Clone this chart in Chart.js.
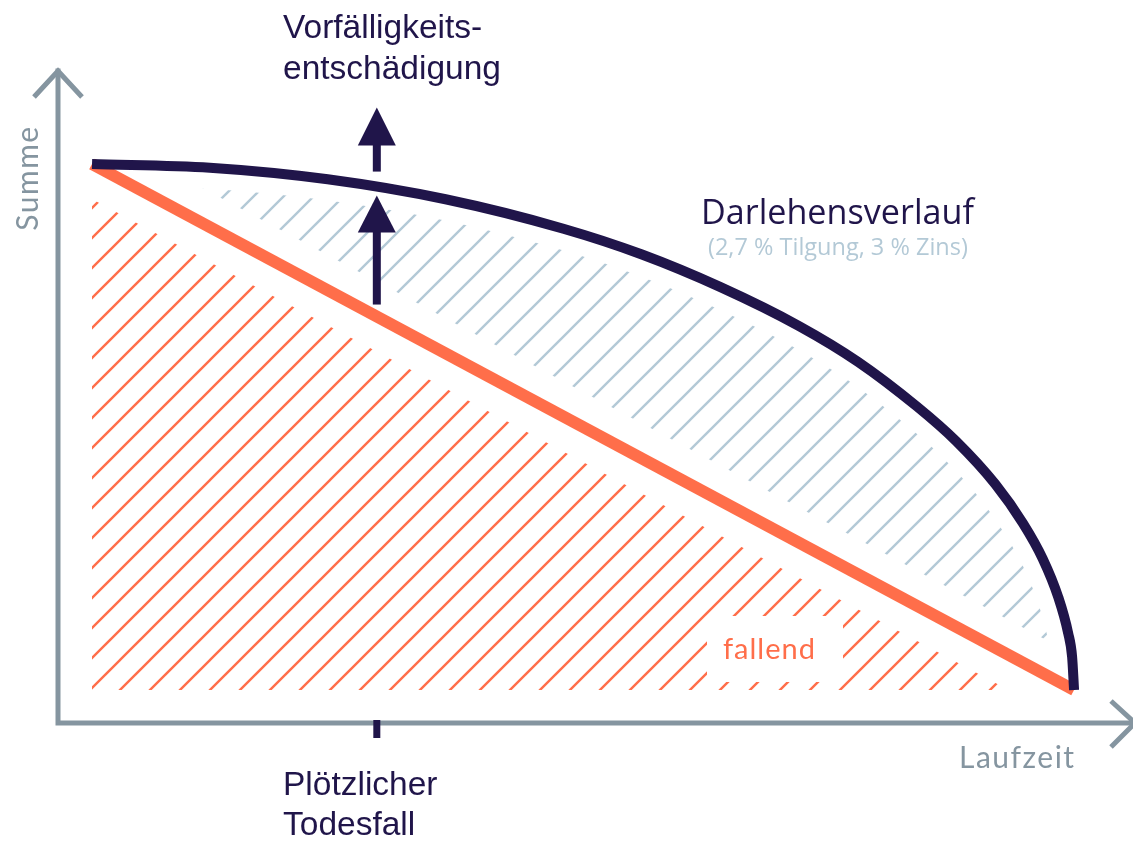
<!DOCTYPE html>
<html>
<head>
<meta charset="utf-8">
<script src="https://cdn.jsdelivr.net/npm/chart.js@4"></script>
<style>
  html, body { margin: 0; padding: 0; background: #fff; }
  #wrap { width: 1133px; height: 843px; position: relative; }
</style>
</head>
<body>
<div id="wrap"><canvas id="chart"></canvas></div>
<script>
// Laufzeit in Jahren, Restschuld in %
const jahre = [0, 3, 6, 9, 12, 14, 16, 18, 19.5, 21, 22, 23, 23.7, 24.2, 24.6, 24.85, 24.95, 25];
const darlehen = [100, 99.3, 97.1, 93.3, 87.7, 82.8, 76.6, 69.2, 62.4, 53.9, 47.3, 39.1, 31.7, 25, 17.6, 10.8, 6.3, 0];
const fallendJahre = [0, 25];
const fallendWerte = [100, 0];
const todesfallJahr = 7.25;

const navy = '#20154a';
const orange = '#ff6e4a';
const hatchBlue = '#b3c9d6';
const axisGray = '#8595a0';

function hatch(color) {
    const s = 30;
    const c = document.createElement('canvas');
    c.width = s; c.height = s;
    const g = c.getContext('2d');
    g.strokeStyle = color;
    g.lineWidth = 2.4;
    [0, s, 2 * s].forEach(k => {
        g.beginPath();
        g.moveTo(-2, k + 2);
        g.lineTo(s + 2, k - s - 2);
        g.stroke();
    });
    return g.createPattern(c, 'repeat');
}

function pts(xs, ys) {
    return xs.map((x, i) => ({x: x, y: ys[i]}));
}

function interp(xs, ys, x) {
    for (let i = 1; i < xs.length; i++) {
        if (x <= xs[i]) {
            const t = (x - xs[i - 1]) / (xs[i] - xs[i - 1]);
            return ys[i - 1] + t * (ys[i] - ys[i - 1]);
        }
    }
    return ys[ys.length - 1];
}

// Schriftgröße so wählen, dass der Text die gewünschte Breite hat
function fitFont(ctx, text, family, width) {
    ctx.font = '100px ' + family;
    const size = 100 * width / ctx.measureText(text).width;
    ctx.font = size.toFixed(2) + 'px ' + family;
}

const extras = {
    id: 'extras',
    afterDatasetsDraw(chart) {
        const ctx = chart.ctx;
        const a = chart.chartArea;
        const xs = chart.scales.x, ys = chart.scales.y;

        // Achsen mit Pfeilspitzen
        ctx.save();
        ctx.strokeStyle = axisGray;
        ctx.lineWidth = 5;
        ctx.lineCap = 'square';
        ctx.beginPath();
        ctx.moveTo(a.left, a.top + 3);
        ctx.lineTo(a.left, a.bottom);
        ctx.lineTo(a.right - 3, a.bottom);
        ctx.stroke();
        ctx.lineCap = 'butt';
        ctx.lineJoin = 'miter';
        ctx.beginPath();
        ctx.moveTo(a.left - 24, a.top + 29);
        ctx.lineTo(a.left, a.top + 3);
        ctx.lineTo(a.left + 24, a.top + 29);
        ctx.stroke();
        ctx.beginPath();
        ctx.moveTo(a.right - 22, a.bottom - 22);
        ctx.lineTo(a.right + 2, a.bottom);
        ctx.lineTo(a.right - 22, a.bottom + 24);
        ctx.stroke();
        ctx.restore();

        // Pfeile beim Todesfall
        const xe = xs.getPixelForValue(todesfallJahr);
        const yc = ys.getPixelForValue(interp(jahre, darlehen, todesfallJahr));
        const yl = ys.getPixelForValue(interp(fallendJahre, fallendWerte, todesfallJahr));
        ctx.save();
        ctx.fillStyle = navy;
        ctx.fillRect(xe - 4, yl - 12, 8, (yc + 44) - (yl - 12));
        ctx.beginPath();
        ctx.moveTo(xe, yc + 8);
        ctx.lineTo(xe - 19, yc + 45);
        ctx.lineTo(xe + 19, yc + 45);
        ctx.closePath();
        ctx.fill();
        ctx.fillRect(xe - 4, yc - 43, 8, 27);
        ctx.beginPath();
        ctx.moveTo(xe, yc - 80);
        ctx.lineTo(xe - 19, yc - 42);
        ctx.lineTo(xe + 19, yc - 42);
        ctx.closePath();
        ctx.fill();
        ctx.fillRect(xe - 3.5, a.bottom - 3, 7, 18);
        ctx.restore();

        // Beschriftungen
        ctx.save();
        ctx.textBaseline = 'alphabetic';
        ctx.fillStyle = navy;
        ctx.font = '33.5px "Liberation Sans", Arial, sans-serif';
        ctx.fillText('Vorfälligkeits-', 283, 38);
        ctx.fillText('entschädigung', 283, 79);
        ctx.fillText('Plötzlicher', 283, 795);
        ctx.fillText('Todesfall', 283, 835);

        fitFont(ctx, 'Darlehensverlauf', '"Open Sans", sans-serif', 273);
        ctx.fillText('Darlehensverlauf', 701, 224);
        ctx.fillStyle = hatchBlue;
        fitFont(ctx, '(2,7 % Tilgung, 3 % Zins)', '"Open Sans", sans-serif', 260);
        ctx.fillText('(2,7 % Tilgung, 3 % Zins)', 708, 255);

        ctx.fillStyle = '#fff';
        ctx.fillRect(707, 616, 136, 66);
        ctx.fillStyle = orange;
        ctx.font = '29px Lato, sans-serif';
        ctx.letterSpacing = '1px';
        ctx.fillText('fallend', 723, 659);

        ctx.fillStyle = axisGray;
        ctx.font = '30px Lato, sans-serif';
        ctx.letterSpacing = '1.5px';
        ctx.fillText('Laufzeit', 959, 768);
        ctx.translate(38, 178);
        ctx.rotate(-Math.PI / 2);
        ctx.textAlign = 'center';
        ctx.fillText('Summe', 0, 0);
        ctx.restore();
    }
};

new Chart(document.getElementById('chart').getContext('2d'), {
    type: 'line',
    data: {
        datasets: [{
            label: 'Darlehensverlauf',
            data: pts(jahre, darlehen),
            borderColor: navy,
            borderWidth: 10,
            cubicInterpolationMode: 'monotone',
            fill: false,
            order: 0
        }, {
            label: 'fallend',
            data: pts(fallendJahre, fallendWerte),
            borderColor: orange,
            borderWidth: 12,
            fill: false,
            order: 0
        }, {
            label: 'halo darlehen',
            data: pts(jahre, darlehen),
            borderColor: '#fff',
            borderWidth: 42,
            cubicInterpolationMode: 'monotone',
            fill: false,
            order: 2
        }, {
            label: 'halo fallend',
            data: pts(fallendJahre, fallendWerte),
            borderColor: '#fff',
            borderWidth: 62,
            fill: false,
            order: 2
        }, {
            label: 'Vorfälligkeitsentschädigung',
            data: pts(jahre, darlehen),
            borderWidth: 0,
            cubicInterpolationMode: 'monotone',
            backgroundColor: hatch(hatchBlue),
            fill: 5,
            order: 4
        }, {
            label: 'fallend Fläche',
            data: pts(fallendJahre, fallendWerte),
            borderWidth: 0,
            backgroundColor: hatch(orange),
            fill: 'origin',
            order: 4
        }]
    },
    options: {
        responsive: true,
        maintainAspectRatio: false,
        animation: false,
        layout: { padding: { left: 58, right: 0, top: 68, bottom: 120 } },
        elements: { point: { radius: 0 } },
        plugins: { legend: { display: false }, tooltip: { enabled: false } },
        scales: {
            x: { type: 'linear', display: false, min: -0.866, max: 26.5 },
            y: { type: 'linear', display: false, min: -6.27, max: 118.25 }
        }
    },
    plugins: [extras]
});
</script>
</body>
</html>
